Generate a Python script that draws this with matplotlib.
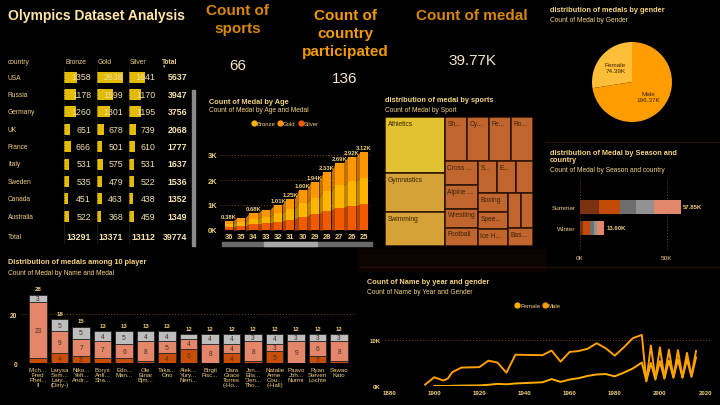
import matplotlib
matplotlib.use("Agg")
import matplotlib.pyplot as plt
from matplotlib.lines import Line2D
from matplotlib.patches import Rectangle

plt.rcParams["font.family"] = ["Liberation Sans", "DejaVu Sans"]

# ---- data -------------------------------------------------------------
kpi_sports = "66"
kpi_countries = "136"
kpi_medals = "39.77K"

countries = ["USA", "Russia", "Germany", "UK", "France", "Italy", "Sweden", "Canada", "Australia"]
bronze = [1358, 1178, 1260, 651, 666, 531, 535, 451, 522]
gold = [2638, 1599, 1301, 678, 501, 575, 479, 463, 368]
silver = [1641, 1170, 1195, 739, 610, 531, 522, 438, 459]
totals = [5637, 3947, 3756, 2068, 1777, 1637, 1536, 1352, 1349]
column_totals = [13291, 13371, 13112, 39774]

ages = [36, 35, 34, 33, 32, 31, 30, 29, 28, 27, 26, 25]
age_bronze = [130, 165, 230, 270, 340, 420, 535, 650, 780, 900, 975, 1040]
age_gold = [125, 170, 225, 265, 335, 415, 530, 645, 775, 895, 970, 1045]
age_silver = [125, 165, 225, 265, 335, 415, 535, 645, 775, 895, 975, 1035]
age_labels = ["0.38K", "", "0.68K", "", "1.01K", "1.25K", "1.60K", "1.94K", "2.33K", "2.69K", "2.92K", "3.12K"]

sports = ["Athletics", "Gymnastics", "Swimming", "Sh...", "Cy...", "Fe...", "Ro...",
          "Cross ...", "Alpine ...", "Wrestling", "Football", "S...", "E...", "",
          "Boxing", "Spee...", "Ice H...", "", "", "Bas..."]
sport_medals = [3969, 2760, 2400, 1150, 1150, 1150, 1119,
                946, 906, 749, 709, 731, 692, 654,
                662, 593, 592, 552, 509, 531]
# nesting of the treemap (indices into sports), 'h' = side by side, 'v' = stacked
sport_tree = ("h", [("v", [0, 1, 2]),
                    ("v", [("h", [3, 4, 5, 6]),
                           ("h", [("v", [7, 8, 9, 10]),
                                  ("v", [("h", [11, 12, 13]),
                                         ("h", [("v", [14, 15, 16]),
                                                ("v", [("h", [17, 18]), 19])])])])])])

genders = ["Female", "Male"]
gender_medals = [74.39, 196.37]

seasons = ["Summer", "Winter"]
season_parts = [[11.1, 1.9], [11.8, 3.8], [9.2, 2.5], [10.5, 1.6], [15.25, 3.8]]
season_labels = ["57.85K", "13.60K"]

players = ["Mich...\nFred\nPhel...\nII", "Larysa\nSem...\nLaty...\n(Diriy-)", "Niko...\nYefi...\nAndr...",
           "Borys\nAnfi...\nSha...", "Edo...\nMan...", "Ole\nEinar\nBjm...", "Taka...\nOno",
           "Alek...\nYury...\nNem...", "Birgit\nFisc...", "Dara\nGrace\nTorres\n(-Ho...",
           "Jen...\nElis...\n\"Jen...\nTho...", "Natalie\nAnne\nCou...\n(-Hall)", "Paavo\nJoh...\nNurmi",
           "Ryan\nSteven\nLochte", "Sawao\nKato"]
player_bronze = [2, 4, 3, 2, 2, 1, 4, 6, 0, 4, 1, 5, 0, 3, 1]
player_gold = [23, 9, 7, 7, 6, 8, 5, 4, 8, 4, 8, 3, 9, 6, 8]
player_silver = [3, 5, 5, 4, 5, 4, 4, 2, 4, 4, 3, 4, 3, 3, 3]

years_m = [1896, 1900, 1904, 1906, 1908, 1912, 1920, 1924, 1928, 1932, 1936, 1948, 1952, 1956,
           1960, 1964, 1968, 1972, 1976, 1980, 1984, 1988, 1992, 1994, 1996, 1998, 2000, 2002,
           2004, 2006, 2008, 2010, 2012, 2014, 2016]
male = [0.3, 1.9, 1.2, 1.6, 3.0, 4.0, 4.1, 5.5, 5.1, 2.9, 6.8, 6.7, 7.7, 5.3,
        7.4, 7.6, 8.1, 9.3, 8.2, 6.6, 8.4, 10.4, 11.1, 1.0, 8.8, 1.6, 8.4, 1.8,
        7.9, 1.9, 7.8, 1.9, 7.2, 2.2, 7.6]
years_f = [1900, 1904, 1906, 1908, 1912, 1920, 1924, 1928, 1932, 1936, 1948, 1952, 1956,
           1960, 1964, 1968, 1972, 1976, 1980, 1984, 1988, 1992, 1994, 1996, 1998, 2000, 2002,
           2004, 2006, 2008, 2010, 2012, 2014, 2016]
female = [0.03, 0.02, 0.01, 0.05, 0.09, 0.13, 0.26, 0.46, 0.37, 0.55, 0.81, 1.5, 0.9,
          1.4, 1.7, 2.2, 2.5, 2.6, 2.1, 2.9, 3.8, 5.1, 1.1, 5.0, 1.4, 5.4, 1.6,
          5.5, 1.8, 5.8, 1.8, 5.8, 2.0, 6.2]

# ---- style ------------------------------------------------------------
W, H = 720, 406
TITLE = "#f5d47f"
TEXT = "#f0cf7f"
GRID = "#7a4a12"

fig = plt.figure(figsize=(7.2, 4.06), dpi=100, facecolor="black")


def px_axes(x0, y0, x1, y1):
    ax = fig.add_axes([x0 / W, 1 - y1 / H, (x1 - x0) / W, (y1 - y0) / H])
    ax.set_facecolor("none")
    return ax


def ftext(x, y, s, **kw):
    kw.setdefault("va", "center")
    kw.setdefault("color", TEXT)
    fig.text(x / W, 1 - y / H, s, **kw)


def clean(ax):
    for sp in ax.spines.values():
        sp.set_visible(False)
    ax.tick_params(length=0)


# panel backgrounds / borders
bg = px_axes(0, 0, W, H)
bg.set_xlim(0, W)
bg.set_ylim(H, 0)
bg.axis("off")
bg.add_patch(Rectangle((358, 250), 188, 22, color="#0a0300"))
bg.plot([545, 720], [143, 143], color="#22100a", lw=1)
bg.plot([360, 720], [268, 268], color="#22100a", lw=1)

# ---- header + KPIs ----------------------------------------------------
ftext(8, 16, "Olympics Dataset Analysis", fontsize=10, fontweight="bold", color="#ffe6a6")
ftext(238, 20, "Count of\nsports", fontsize=11, fontweight="bold", color="#d9870a",
      ha="center", linespacing=1.3)
ftext(238, 66, kpi_sports, fontsize=11, color="#f5e4c0", ha="center")
ftext(345, 34, "Count of\ncountry\nparticipated", fontsize=11, fontweight="bold", color="#f29a00",
      ha="center", linespacing=1.32)
ftext(345, 79, kpi_countries, fontsize=11, color="#f5e4c0", ha="center")
ftext(472, 16, "Count of medal", fontsize=11, fontweight="bold", color="#d9870a", ha="center")
ftext(472, 61, kpi_medals, fontsize=11, color="#f5e4c0", ha="center")

# ---- table ------------------------------------------------------------
tab = px_axes(0, 50, 200, 250)
tab.set_xlim(0, 200)
tab.set_ylim(250, 50)
tab.axis("off")
row_y = [78 + 17.4 * i for i in range(len(countries))]
starts = [64, 97, 129]
rights = [91, 123, 155]
scale = 0.0099
tab.text(8, 62, "country", fontsize=4.8, color=TEXT, va="center")
for name, x in zip(["Bronze", "Gold", "Silver"], starts):
    tab.text(x + 1, 62, name, fontsize=4.8, color=TEXT, va="center")
    tab.plot([x, x], [68, 244], color="#3a3a3a", lw=0.6, ls=(0, (1, 1)))
tab.text(162, 62, "Total", fontsize=4.8, color=TEXT, va="center", fontweight="bold")
tab.text(163, 67, "\u25be", fontsize=3.5, color=TEXT, va="center")
for col, (vals, x0, xr) in enumerate(zip([bronze, gold, silver], starts, rights)):
    tab.barh(row_y, [v * scale for v in vals], left=x0, height=11, color="#e3bb00", edgecolor="none")
    for y, v in zip(row_y, vals):
        tab.text(xr, y, str(v), fontsize=6.3, color="#f5e0a8", ha="right", va="center")
for y, c, t in zip(row_y, countries, totals):
    tab.text(8, y, c, fontsize=4.8, color=TEXT, va="center")
    tab.text(187, y, str(t), fontsize=6.3, color="#f7e4b0", ha="right", va="center", fontweight="bold")
tab.text(8, 238, "Total", fontsize=4.8, color=TEXT, va="center")
for xr, v in zip(rights + [187], column_totals):
    tab.text(xr, 238, str(v), fontsize=6.3, color="#f7e4b0", ha="right", va="center", fontweight="bold")
tab.add_patch(Rectangle((192, 91), 2.5, 156, color="#8a8a8a"))

# ---- count of medal by age (ribbon style) ------------------------------
ftext(209, 102, "Count of Medal by Age", fontsize=5.3, fontweight="bold", color=TITLE)
ftext(209, 110, "Count of Medal by Age and Medal", fontsize=4.8, color=TITLE)
age_cols = {"Bronze": "#ffb400", "Gold": "#ff9800", "Silver": "#f05a00"}
handles = [Line2D([], [], marker="o", ls="", color=c, markersize=3.5) for c in age_cols.values()]
fig.legend(handles, list(age_cols), loc="center", bbox_to_anchor=(285 / W, 1 - 124 / H), ncol=3,
           frameon=False, fontsize=4.3, handletextpad=0.05, columnspacing=0.4, handlelength=0.8,
           labelcolor=TEXT)
aa = px_axes(220, 145, 372, 231)
pos = list(range(len(ages)))
layers = [("Silver", age_silver), ("Bronze", age_bronze), ("Gold", age_gold)]
bw = 0.66
base = [0] * len(ages)
for name, vals in layers:
    top = [b + v for b, v in zip(base, vals)]
    aa.bar(pos, vals, bottom=base, width=bw, color=age_cols[name], edgecolor="none", zorder=3)
    for i in range(len(ages) - 1):
        aa.fill_between([i + bw / 2, i + 1 - bw / 2], [base[i], base[i + 1]], [top[i], top[i + 1]],
                        color=age_cols[name], alpha=0.75, lw=0, zorder=2)
    base = top
for i, lab in enumerate(age_labels):
    if lab:
        aa.text(i, base[i] + 70, lab, fontsize=4.2, color=TEXT, ha="center", va="bottom",
                fontweight="bold", clip_on=False)
aa.set_xlim(-0.73, 11.65)
aa.set_ylim(0, 3440)
aa.set_yticks([0, 1000, 2000, 3000], ["0K", "1K", "2K", "3K"])
aa.set_xticks(pos, [str(a) for a in ages])
aa.yaxis.grid(True, color=GRID, ls=(0, (1, 2)), lw=0.7)
aa.set_axisbelow(True)
clean(aa)
aa.tick_params(labelsize=5.4, labelcolor=TEXT, pad=2)
for lbl in aa.get_xticklabels() + aa.get_yticklabels():
    lbl.set_fontweight("bold")
bg.add_patch(Rectangle((222, 243), 150, 4, color="#6a6a6a"))
bg.add_patch(Rectangle((264, 243), 53, 4, color="#a8a8a8"))

# ---- treemap ----------------------------------------------------------
ftext(385, 101, "distribution of medal by sports", fontsize=5.3, fontweight="bold", color=TITLE)
ftext(385, 110, "Count of Medal by Sport", fontsize=4.8, color=TITLE)


def node_value(node):
    if isinstance(node, int):
        return sport_medals[node]
    return sum(node_value(k) for k in node[1])


def layout(node, x, y, w, h, out):
    if isinstance(node, int):
        out.append((node, x, y, w, h))
        return
    kind, kids = node
    tot = node_value(node)
    for k in kids:
        f = node_value(k) / tot
        if kind == "h":
            layout(k, x, y, w * f, h, out)
            x += w * f
        else:
            layout(k, x, y, w, h * f, out)
            y += h * f


rects = []
layout(sport_tree, 0, 0, 148, 129, rects)
ta = px_axes(385, 118, 533, 247)
ta.set_xlim(0, 148)
ta.set_ylim(129, 0)
ta.axis("off")
for idx, x, y, w, h in rects:
    col = "#e2c230" if idx == 0 else ("#d6a238" if idx < 3 else "#c0652e")
    ta.add_patch(Rectangle((x, y), w, h, facecolor=col, edgecolor="#2a1204", lw=1.1))
    ta.text(x + 2.5, y + 2.5, sports[idx], fontsize=4.8, color="#3a2206", va="top", ha="left")

# ---- pie --------------------------------------------------------------
ftext(550, 11, "distribution of medals by gender", fontsize=5.3, fontweight="bold", color=TITLE)
ftext(550, 21, "Count of Medal by Gender", fontsize=4.8, color=TITLE)
pa = px_axes(592, 43, 672, 123)
wedges, texts = pa.pie(gender_medals, colors=["#ffbe3a", "#ff9d00"], startangle=90, counterclock=True,
                       labels=[f"{g}\n{v:.2f}K" for g, v in zip(genders, gender_medals)],
                       labeldistance=0.55, textprops=dict(fontsize=4.6, color="#3d2600"))
for t in texts:
    t.set_ha("center")
    t.set_va("center")
pa.set_xlim(-1.0, 1.0)
pa.set_ylim(-1.0, 1.0)
pa.set_aspect("equal")

# ---- season bars ------------------------------------------------------
ftext(550, 157, "distribution of Medal by Season and\ncountry", fontsize=5.3, fontweight="bold",
      color=TITLE, linespacing=1.1)
ftext(550, 171, "Count of Medal by Season and country", fontsize=4.8, color=TITLE)
sa = px_axes(580, 180, 693, 252)
season_cols = ["#7a3210", "#c24a08", "#6e6e6e", "#929292", "#e0876c"]
left = [0, 0]
for part, col in zip(season_parts, season_cols):
    sa.barh([0, 1], [p * 1000 for p in part], left=left, height=0.68, color=col, zorder=3)
    left = [l + p * 1000 for l, p in zip(left, part)]
for i, lab in enumerate(season_labels):
    sa.text(left[i] + 1500, i, lab, fontsize=4.3, color=TEXT, va="center", fontweight="bold")
sa.set_xlim(0, 65000)
sa.set_ylim(2.1, -1.33)
sa.set_yticks([0, 1], seasons)
sa.set_xticks([0, 50000], ["0K", "50K"])
sa.xaxis.grid(True, color=GRID, ls=(0, (1, 2)), lw=0.7)
sa.set_axisbelow(True)
clean(sa)
sa.tick_params(labelsize=4.6, labelcolor=TEXT, pad=3)

# ---- top players ------------------------------------------------------
ftext(8, 263, "Distribution of medals among 10 player", fontsize=5.3, fontweight="bold", color=TITLE)
ftext(8, 274, "Count of Medal by Name and Medal", fontsize=4.8, color=TITLE)
pl = px_axes(20, 280, 355, 364.3)
xs = list(range(len(players)))
pcols = ["#c94d06", "#e3866a", "#bdbdbd"]
base = [0] * len(players)
for vals, col in zip([player_bronze, player_gold, player_silver], pcols):
    pl.bar(xs, vals, bottom=base, width=0.8, color=col, edgecolor="#262626", lw=0.6, zorder=3)
    for x, b, v in zip(xs, base, vals):
        if v >= 3:
            pl.text(x, b + v / 2, str(v), fontsize=4.8, color="#4a3020", ha="center", va="center", zorder=4)
    base = [b + v for b, v in zip(base, vals)]
for x, t in zip(xs, base):
    pl.text(x, t + 1.3, str(t), fontsize=4.3, color=TEXT, ha="center", va="bottom", fontweight="bold")
pl.set_xlim(-0.84, 14.74)
pl.set_ylim(0, 34.4)
pl.set_yticks([0, 20])
pl.set_xticks(xs, players)
pl.yaxis.grid(True, color=GRID, ls=(0, (1, 2)), lw=0.7)
pl.set_axisbelow(True)
clean(pl)
pl.tick_params(axis="x", labelsize=4.4, labelcolor=TEXT, pad=3)
pl.tick_params(axis="y", labelsize=4.8, labelcolor=TEXT, pad=2)
for lbl in pl.get_xticklabels():
    lbl.set_linespacing(0.95)
for lbl in pl.get_yticklabels():
    lbl.set_fontweight("bold")

# ---- line chart -------------------------------------------------------
ftext(367, 283, "Count of Name by year and gender", fontsize=5.3, fontweight="bold", color=TITLE)
ftext(367, 293, "Count of Name by Year and Gender", fontsize=4.8, color=TITLE)
la = px_axes(385, 315, 710, 387)
la.plot(years_f, female, color="#ffae00", lw=1.4, zorder=3)
la.plot(years_m, male, color="#ff9f00", lw=1.4, zorder=3)
la.set_xlim(1878.2, 2022.2)
la.set_ylim(0, 15.65)
la.set_xticks([1880, 1900, 1920, 1940, 1960, 1980, 2000, 2020])
la.set_yticks([0, 10], ["0K", "10K"])
la.yaxis.grid(True, color=GRID, ls=(0, (1, 2)), lw=0.7)
clean(la)
la.tick_params(labelsize=4.4, labelcolor=TEXT, pad=3)
for lbl in la.get_xticklabels() + la.get_yticklabels():
    lbl.set_fontweight("bold")
lhandles = [Line2D([], [], marker="o", ls="", color=c, markersize=3.5) for c in ["#ffae00", "#ff9800"]]
fig.legend(lhandles, ["Female", "Male"], loc="center", bbox_to_anchor=(538 / W, 1 - 306 / H), ncol=2,
           frameon=False, fontsize=4.3, handletextpad=0.05, columnspacing=0.4, handlelength=0.8,
           labelcolor=TEXT)

fig.savefig("out.png", dpi=100, facecolor="black")
